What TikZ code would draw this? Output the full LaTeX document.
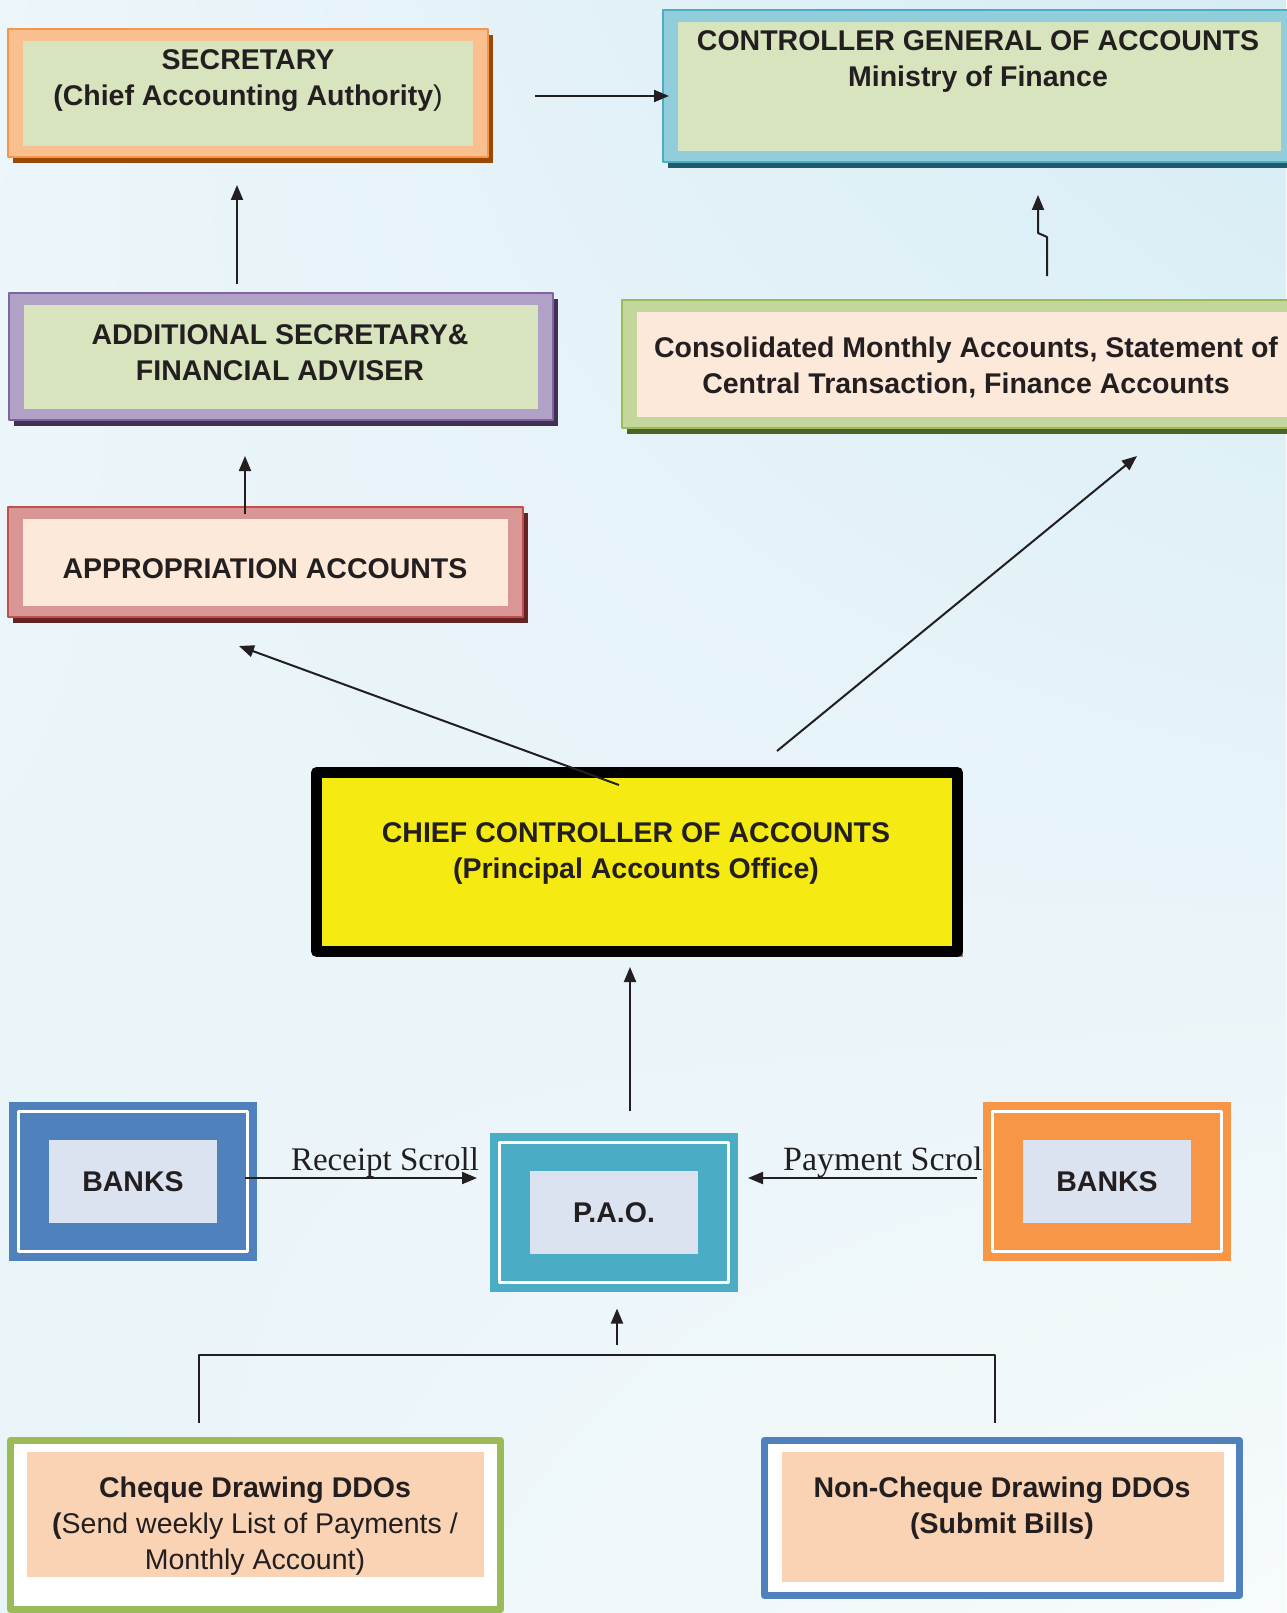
\documentclass[tikz,border=0pt]{standalone}
\usepackage{fontspec}
\setmainfont{Liberation Sans}
\newfontfamily\scrollfont{Liberation Serif}
\usetikzlibrary{arrows.meta,shadows,shadings}

\definecolor{bgUL}{HTML}{EDF6FA}
\definecolor{bgUR}{HTML}{D6ECF5}
\definecolor{bgLL}{HTML}{E9F4F9}
\definecolor{bgLR}{HTML}{F7FBFC}
\definecolor{ink}{HTML}{231F20}
\definecolor{orangeDk}{HTML}{F79646}
\definecolor{orangeLt}{HTML}{F9BF8F}
\definecolor{orangeSh}{HTML}{984807}
\definecolor{tealDk}{HTML}{4BACC6}
\definecolor{tealLt}{HTML}{92CDDC}
\definecolor{tealSh}{HTML}{215968}
\definecolor{violetDk}{HTML}{8064A2}
\definecolor{violetLt}{HTML}{B2A1C7}
\definecolor{violetSh}{HTML}{3F3151}
\definecolor{oliveDk}{HTML}{9BBB59}
\definecolor{oliveLt}{HTML}{C3D69B}
\definecolor{oliveSh}{HTML}{4F6228}
\definecolor{roseDk}{HTML}{C0504D}
\definecolor{roseLt}{HTML}{D99694}
\definecolor{roseSh}{HTML}{632523}
\definecolor{sage}{HTML}{D7E4BD}
\definecolor{blush}{HTML}{FDE9D9}
\definecolor{peach}{HTML}{FAD3B4}
\definecolor{lemon}{HTML}{F6EA13}
\definecolor{steel}{HTML}{4F81BD}
\definecolor{mist}{HTML}{DCE3F0}

\tikzset{
  tier/.style n args={4}{rectangle, draw=#1, line width=1.2pt, fill=#2,
    inner sep=0pt, outer sep=0pt,
    drop shadow={shadow xshift=5pt, shadow yshift=-6pt, fill=#4, opacity=1},
    path picture={\fill[#3] ([shift={(15pt,11pt)}]path picture bounding box.south west)
      rectangle ([shift={(-15pt,-12pt)}]path picture bounding box.north east);}},
  bank/.style={rectangle, fill=#1, inner sep=0pt, outer sep=0pt,
    minimum width=248pt, minimum height=159pt,
    font=\bfseries\fontsize{28.5}{36}\selectfont, text=ink,
    path picture={
      \draw[white, line width=3pt] ([shift={(9.5pt,9.5pt)}]path picture bounding box.south west)
        rectangle ([shift={(-9.5pt,-9.5pt)}]path picture bounding box.north east);
      \fill[mist] ([shift={(-84pt,-41.5pt)}]path picture bounding box.center) rectangle ++(168pt,83pt);}},
  ddo/.style n args={3}{rectangle, draw=#1, line width=7pt, fill=white,
    inner sep=0pt, outer sep=0pt,
    path picture={\fill[peach] ([shift={#2}]path picture bounding box.center) rectangle ++#3;}},
  caption/.style={align=center, inner sep=0pt, text=ink,
    font=\bfseries\fontsize{28.5}{36}\selectfont},
  scroll/.style={inner sep=0pt, text=ink, font=\scrollfont\fontsize{#1}{36}\selectfont},
  arr/.style={-{Triangle[length=15pt,width=12pt]}, line width=2pt, draw=ink},
  bar/.style={line width=2pt, draw=ink}
}

\begin{document}
\begin{tikzpicture}[x=1pt, y=1pt, line join=round]
  \useasboundingbox (0,0) rectangle (1286,-1613);
  % background
  \shade[upper left=bgUL, upper right=bgUR, lower left=bgLL, lower right=bgLR]
    (0,0) rectangle (1286,-1613);

  % upper boxes
  \node[tier={orangeDk}{orangeLt}{sage}{orangeSh}, minimum width=480pt, minimum height=128pt] (sec) at (248,-93) {};
  \node[caption] (sectxt) at (248,-81) {SECRETARY\\(Chief Accounting Authority{\mdseries )}};

  \node[tier={tealDk}{tealLt}{sage}{tealSh}, minimum width=633pt, minimum height=152pt] (cga) at (979.5,-86) {};
  \node[caption] (cgatxt) at (978,-62) {CONTROLLER GENERAL OF ACCOUNTS\\Ministry of Finance};

  \node[tier={violetDk}{violetLt}{sage}{violetSh}, minimum width=544pt, minimum height=127pt] (addl) at (281,-356.5) {};
  \node[caption] (addltxt) at (280,-353) {ADDITIONAL SECRETARY\&\\FINANCIAL ADVISER};

  \node[tier={oliveDk}{oliveLt}{blush}{oliveSh}, minimum width=688pt, minimum height=128pt] (cons) at (966,-364) {};
  \node[caption] (constxt) at (966,-367) {Consolidated Monthly Accounts, Statement of\\Central Transaction, Finance Accounts};

  \node[tier={roseDk}{roseLt}{blush}{roseSh}, minimum width=515pt, minimum height=110pt] (approp) at (265.5,-562) {};
  \node[caption] (approptxt) at (265,-569) {APPROPRIATION ACCOUNTS};

  % chief controller
  \node[rectangle, draw=black, line width=11pt, fill=lemon, inner sep=0pt, outer sep=0pt,
    minimum width=641pt, minimum height=179pt,
    drop shadow={shadow xshift=5pt, shadow yshift=-5pt, fill=black!50, opacity=1}] (cca) at (637,-862) {};
  \node[caption] (ccatxt) at (636,-853) {CHIEF CONTROLLER OF ACCOUNTS\\(Principal Accounts Office)};

  % scroll labels
  \node[scroll=33, anchor=base] (rcpt) at (385,-1170) {Receipt Scroll};
  \node[scroll=34, anchor=base west] (pymt) at (783,-1170) {Payment Scrol};

  % banks and pao
  \node[bank=steel] (bankl) at (133,-1181.5) {BANKS};
  \node[bank=tealDk] (pao) at (614,-1212.5) {P.A.O.};
  \node[bank=orangeDk] (bankr) at (1107,-1181.5) {BANKS};

  % drawing officers
  \node[ddo={oliveDk}{(-228.5pt,-52pt)}{(457pt,125pt)}, minimum width=490pt, minimum height=169pt] (chq) at (255.5,-1525) {};
  \node[caption] (chqtxt) at (255,-1526) {Cheque Drawing DDOs\\(\mdseries Send weekly List of Payments /\\\mdseries Monthly Account)};
  \node[ddo={steel}{(-220pt,-64pt)}{(442pt,130pt)}, minimum width=475pt, minimum height=155pt] (nch) at (1002,-1518) {};
  \node[caption] (nchtxt) at (1002,-1508) {Non-Cheque Drawing DDOs\\(Submit Bills)};

  % connectors
  \draw[arr] ([xshift=47pt,yshift=-3pt]sec.east) -- ([xshift=6pt,yshift=-10pt]cga.west);
  \draw[arr] ([xshift=-44pt,yshift=9pt]addl.north) -- ([xshift=-11pt,yshift=-28pt]sec.south);
  \draw[arr] ([xshift=-20.5pt,yshift=-7pt]approp.north) -- ([xshift=-36pt,yshift=-36pt]addl.south);
  \draw[arr] ([xshift=-18pt,yshift=-12.5pt]cca.north) -- ([xshift=-26.5pt,yshift=-29pt]approp.south);
  \draw[arr] ([xshift=140pt,yshift=21.5pt]cca.north) -- ([xshift=171pt,yshift=-28pt]cons.south);
  \draw[arr] ([xshift=81pt,yshift=24pt]cons.north) -- ++(0,39) -- ++(-9,4)
    -- ([xshift=58.5pt,yshift=-33pt]cga.south);
  \draw[arr] ([xshift=16pt,yshift=22pt]pao.north) -- ([xshift=-7pt,yshift=-15.5pt]cca.south);
  \draw[arr] ([xshift=-12pt,yshift=3.5pt]bankl.east) -- ([xshift=-13pt,yshift=34.5pt]pao.west);
  \draw[arr] ([xshift=-6pt,yshift=3.5pt]bankr.west) -- ([xshift=10pt,yshift=34.5pt]pao.east);
  \draw[bar] ([xshift=-56.5pt,yshift=17.5pt]chq.north) -- ++(0,68) -| ([xshift=-7pt,yshift=17.5pt]nch.north);
  \coordinate (ddojoin) at (617,-1345);
  \draw[arr] (ddojoin) -- ([xshift=3pt,yshift=-16.5pt]pao.south);
\end{tikzpicture}
\end{document}
